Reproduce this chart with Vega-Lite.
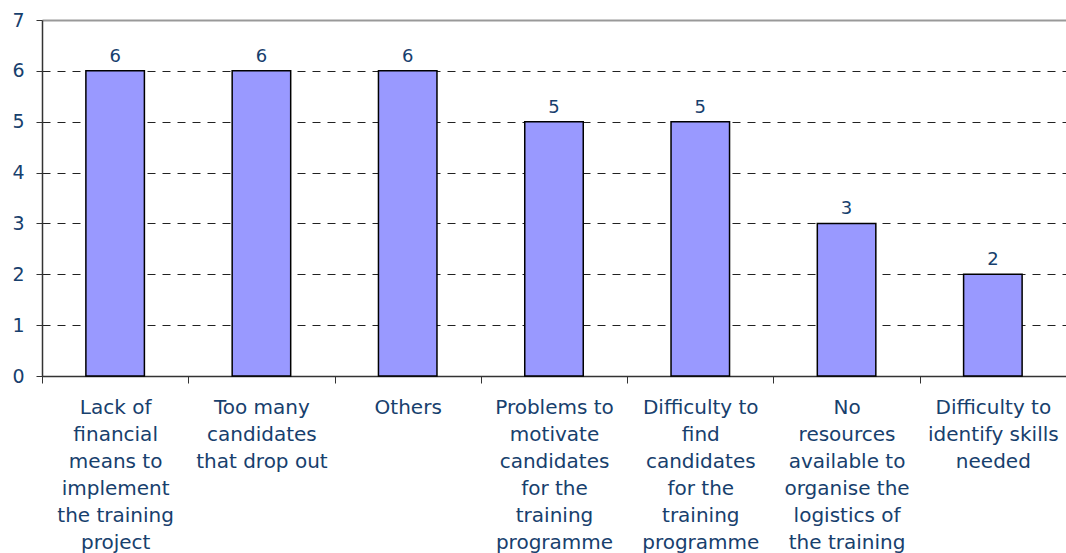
{
  "$schema": "https://vega.github.io/schema/vega-lite/v6.json",
  "width": 1024,
  "height": 356,
  "autosize": "none",
  "padding": {"left": 42, "top": 20, "right": 0, "bottom": 177},
  "background": "white",
  "config": {
    "view": {"stroke": null},
    "font": "DejaVu Sans"
  },
  "data": {
    "values": [
      {"cause": "Lack of|financial|means to|implement|the training|project", "count": 6},
      {"cause": "Too many|candidates|that drop out", "count": 6},
      {"cause": "Others", "count": 6},
      {"cause": "Problems to|motivate|candidates|for the|training|programme", "count": 5},
      {"cause": "Difficulty to|find|candidates|for the|training|programme", "count": 5},
      {"cause": "No|resources|available to|organise the|logistics of|the training", "count": 3},
      {"cause": "Difficulty to|identify skills|needed", "count": 2}
    ]
  },
  "encoding": {
    "x": {
      "field": "cause",
      "type": "nominal",
      "sort": null,
      "scale": {"paddingInner": 0, "paddingOuter": 0},
      "axis": {
        "title": null,
        "labelAngle": 0,
        "labelAlign": "center",
        "labelBaseline": "top",
        "labelExpr": "isValid(datum.value) ? split(datum.value, '|') : ''",
        "labelFontSize": 20,
        "labelLineHeight": 27,
        "labelColor": "#17406D",
        "labelLimit": 0,
        "labelPadding": 14,
        "labelOverlap": false,
        "tickBand": "extent",
        "tickSize": 7,
        "tickColor": "#333333",
        "domainColor": "#333333",
        "domainWidth": 1.5,
        "grid": false
      }
    },
    "y": {
      "field": "count",
      "type": "quantitative",
      "scale": {"domain": [0, 7], "nice": false},
      "axis": {
        "title": null,
        "values": [0, 1, 2, 3, 4, 5, 6, 7],
        "labelFontSize": 19,
        "labelColor": "#17406D",
        "labelPadding": 12,
        "tickSize": 6,
        "tickColor": "#333333",
        "domainColor": "#333333",
        "domainWidth": 1.5,
        "grid": true,
        "gridColor": {"condition": {"test": "datum.value == 7", "value": "#999999"}, "value": "#222222"},
        "gridDash": {"condition": {"test": "datum.value == 7", "value": []}, "value": [8, 7]},
        "gridWidth": {"condition": {"test": "datum.value == 7", "value": 2}, "value": 1}
      }
    }
  },
  "layer": [
    {
      "mark": {"type": "bar", "color": "#9999FF", "stroke": "#000000", "strokeWidth": 1.5, "width": {"band": 0.4}}
    },
    {
      "mark": {"type": "text", "dy": -14, "fontSize": 18, "color": "#17406D", "baseline": "middle"},
      "encoding": {"text": {"field": "count", "type": "quantitative"}}
    }
  ]
}
